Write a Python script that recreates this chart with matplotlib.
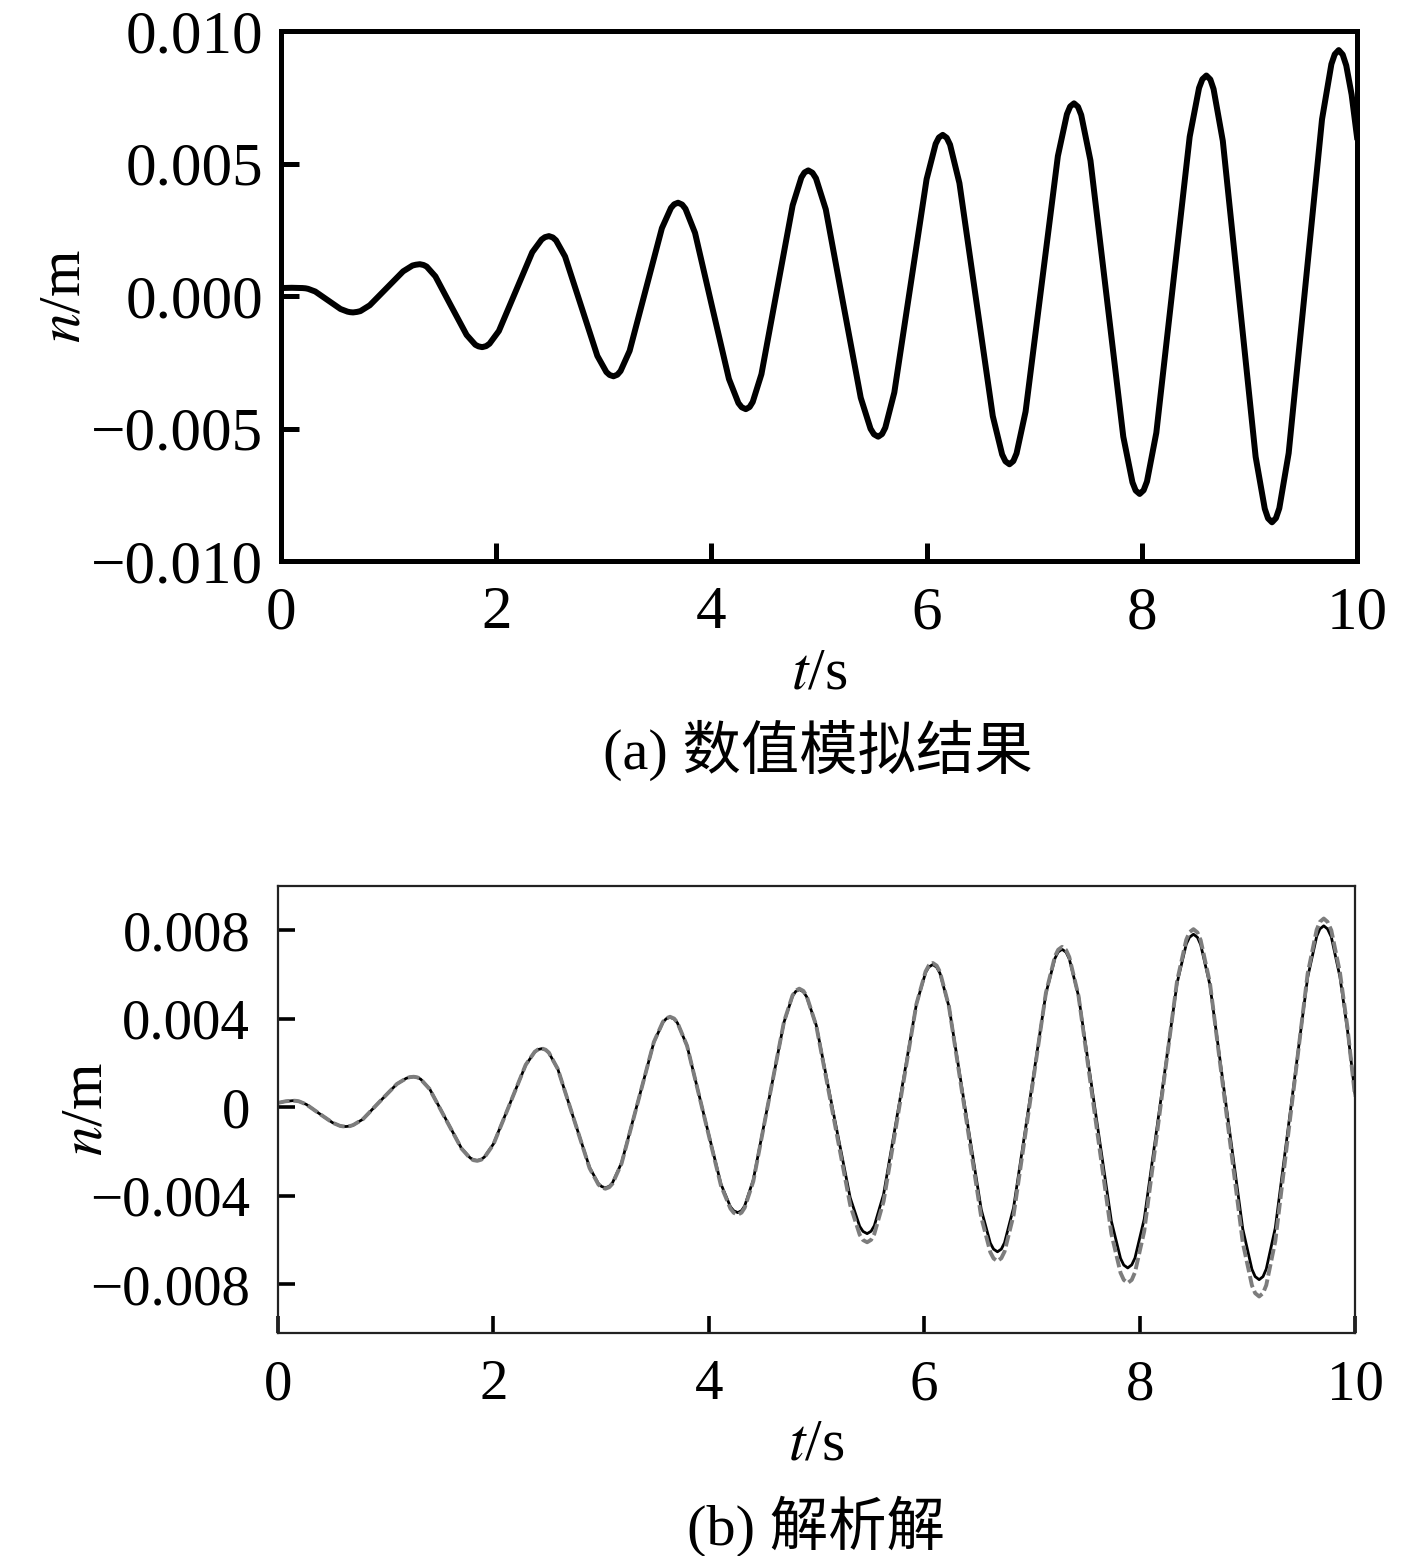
import numpy as np
import matplotlib
matplotlib.use("Agg")
import matplotlib.pyplot as plt

plt.rcParams['font.family'] = ['Liberation Serif', 'Noto Sans CJK SC']
plt.rcParams['mathtext.fontset'] = 'stix'
plt.rcParams['axes.unicode_minus'] = True

# (a) numerical result, n in mm
t_a = [0.00, 0.10, 0.20,
       0.228, 0.252, 0.318, 0.435, 0.553, 0.618, 0.642, 0.67,
       0.707, 0.738, 0.825, 0.980, 1.135, 1.222, 1.253, 1.29,
       1.325, 1.354, 1.435, 1.580, 1.725, 1.806, 1.835, 1.87,
       1.907, 1.938, 2.025, 2.180, 2.335, 2.422, 2.453, 2.49,
       2.526, 2.556, 2.640, 2.790, 2.940, 3.024, 3.054, 3.09,
       3.126, 3.156, 3.240, 3.390, 3.540, 3.624, 3.654, 3.69,
       3.728, 3.759, 3.848, 4.005, 4.163, 4.251, 4.282, 4.32,
       4.355, 4.384, 4.465, 4.610, 4.755, 4.836, 4.865, 4.90,
       4.939, 4.972, 5.063, 5.225, 5.388, 5.479, 5.511, 5.55,
       5.586, 5.616, 5.700, 5.850, 6.000, 6.084, 6.114, 6.15,
       6.187, 6.218, 6.305, 6.460, 6.615, 6.702, 6.733, 6.77,
       6.806, 6.836, 6.920, 7.070, 7.220, 7.304, 7.334, 7.37,
       7.407, 7.437, 7.523, 7.675, 7.828, 7.913, 7.943, 7.98,
       8.017, 8.048, 8.135, 8.290, 8.445, 8.532, 8.563, 8.60,
       8.637, 8.667, 8.753, 8.905, 9.058, 9.143, 9.173, 9.21,
       9.247, 9.278, 9.365, 9.520, 9.675, 9.762, 9.793, 9.83,
       9.867, 9.90, 9.95, 10.00]
n_a_mm = [0.30, 0.31, 0.30,
          0.29, 0.27, 0.17, -0.16, -0.49, -0.59, -0.61, -0.62,
          -0.60, -0.57, -0.35, 0.29, 0.93, 1.15, 1.18, 1.20,
          1.17, 1.11, 0.74, -0.37, -1.47, -1.84, -1.90, -1.93,
          -1.89, -1.80, -1.32, 0.17, 1.65, 2.13, 2.22, 2.26,
          2.21, 2.10, 1.49, -0.39, -2.26, -2.87, -2.98, -3.03,
          -2.97, -2.83, -2.07, 0.25, 2.56, 3.32, 3.46, 3.52,
          3.45, 3.29, 2.38, -0.38, -3.13, -4.04, -4.20, -4.27,
          -4.19, -4.00, -2.95, 0.24, 3.42, 4.47, 4.66, 4.74,
          4.65, 4.44, 3.27, -0.29, -3.84, -5.01, -5.22, -5.31,
          -5.21, -4.97, -3.64, 0.39, 4.41, 5.74, 5.98, 6.08,
          5.97, 5.71, 4.26, -0.14, -4.53, -5.98, -6.24, -6.35,
          -6.23, -5.94, -4.36, 0.46, 5.28, 6.86, 7.15, 7.27,
          7.14, 6.83, 5.11, -0.10, -5.31, -7.03, -7.34, -7.47,
          -7.33, -7.00, -5.16, 0.43, 6.01, 7.85, 8.18, 8.32,
          8.17, 7.81, 5.85, -0.11, -6.07, -8.03, -8.39, -8.54,
          -8.38, -8.01, -5.93, 0.37, 6.67, 8.75, 9.12, 9.28,
          9.11, 8.70, 7.60, 6.00]

# (b) analytical solution: solid and dashed curves, n in mm
t_b = [0.00, 0.07, 0.14,
       0.169, 0.194, 0.263, 0.385, 0.508, 0.576, 0.601, 0.63,
       0.668, 0.699, 0.788, 0.945, 1.103, 1.191, 1.222, 1.26,
       1.295, 1.325, 1.408, 1.555, 1.703, 1.785, 1.815, 1.85,
       1.886, 1.916, 2.000, 2.150, 2.300, 2.384, 2.414, 2.45,
       2.485, 2.515, 2.598, 2.745, 2.893, 2.975, 3.005, 3.04,
       3.076, 3.106, 3.190, 3.340, 3.490, 3.574, 3.604, 3.64,
       3.678, 3.709, 3.798, 3.955, 4.113, 4.201, 4.232, 4.27,
       4.304, 4.333, 4.413, 4.555, 4.698, 4.777, 4.806, 4.84,
       4.878, 4.909, 4.998, 5.155, 5.313, 5.401, 5.432, 5.47,
       5.507, 5.537, 5.623, 5.775, 5.928, 6.013, 6.043, 6.08,
       6.116, 6.146, 6.230, 6.380, 6.530, 6.614, 6.644, 6.68,
       6.716, 6.746, 6.830, 6.980, 7.130, 7.214, 7.244, 7.28,
       7.317, 7.347, 7.433, 7.585, 7.738, 7.823, 7.853, 7.89,
       7.927, 7.957, 8.043, 8.195, 8.348, 8.433, 8.463, 8.50,
       8.537, 8.567, 8.653, 8.805, 8.958, 9.043, 9.073, 9.11,
       9.146, 9.176, 9.260, 9.410, 9.560, 9.644, 9.674, 9.71,
       9.745, 9.78, 9.86, 9.93, 10.00]
n_b_solid_mm = [0.20, 0.27, 0.30,
                0.29, 0.27, 0.13, -0.29, -0.70, -0.84, -0.86, -0.87,
                -0.85, -0.80, -0.54, 0.26, 1.05, 1.31, 1.36, 1.38,
                1.35, 1.27, 0.83, -0.51, -1.85, -2.29, -2.37, -2.40,
                -2.36, -2.25, -1.66, 0.13, 1.91, 2.50, 2.61, 2.65,
                2.59, 2.46, 1.73, -0.50, -2.72, -3.45, -3.58, -3.64,
                -3.57, -3.41, -2.51, 0.22, 2.94, 3.84, 4.00, 4.07,
                3.99, 3.81, 2.78, -0.35, -3.47, -4.50, -4.68, -4.76,
                -4.67, -4.46, -3.28, 0.28, 3.84, 5.02, 5.23, 5.32,
                5.22, 4.99, 3.70, -0.20, -4.09, -5.38, -5.61, -5.71,
                -5.60, -5.35, -3.93, 0.37, 4.67, 6.09, 6.34, 6.45,
                6.33, 6.06, 4.55, -0.04, -4.63, -6.14, -6.41, -6.53,
                -6.41, -6.12, -4.53, 0.31, 5.14, 6.73, 7.02, 7.14,
                7.01, 6.71, 5.03, -0.06, -5.15, -6.83, -7.13, -7.26,
                -7.12, -6.81, -5.05, 0.28, 5.61, 7.37, 7.68, 7.82,
                7.68, 7.35, 5.53, 0.02, -5.50, -7.32, -7.65, -7.79,
                -7.65, -7.31, -5.45, 0.21, 5.86, 7.72, 8.06, 8.20,
                8.06, 7.70, 5.90, 3.50, 0.60]
n_b_dashed_mm = [0.20, 0.27, 0.30,
                 0.29, 0.27, 0.13, -0.29, -0.70, -0.84, -0.86, -0.87,
                 -0.85, -0.80, -0.54, 0.26, 1.05, 1.31, 1.36, 1.38,
                 1.35, 1.27, 0.82, -0.52, -1.86, -2.31, -2.39, -2.42,
                 -2.37, -2.27, -1.68, 0.12, 1.92, 2.51, 2.61, 2.66,
                 2.60, 2.47, 1.73, -0.51, -2.75, -3.49, -3.62, -3.68,
                 -3.61, -3.45, -2.54, 0.21, 2.95, 3.86, 4.02, 4.09,
                 4.01, 3.82, 2.78, -0.38, -3.54, -4.58, -4.77, -4.85,
                 -4.76, -4.54, -3.35, 0.26, 3.86, 5.05, 5.27, 5.36,
                 5.26, 5.02, 3.68, -0.37, -4.42, -5.76, -6.00, -6.10,
                 -5.99, -5.72, -4.25, 0.21, 4.67, 6.14, 6.41, 6.52,
                 6.40, 6.12, 4.55, -0.22, -4.98, -6.55, -6.83, -6.95,
                 -6.82, -6.52, -4.87, 0.15, 5.17, 6.82, 7.12, 7.25,
                 7.11, 6.79, 5.03, -0.35, -5.72, -7.48, -7.80, -7.94,
                 -7.80, -7.46, -5.60, 0.06, 5.71, 7.57, 7.91, 8.05,
                 7.90, 7.55, 5.62, -0.25, -6.12, -8.05, -8.40, -8.55,
                 -8.40, -8.04, -6.05, -0.01, 6.03, 8.02, 8.38, 8.53,
                 8.38, 8.00, 6.10, 3.60, 0.50]

x_ticks = [0, 2, 4, 6, 8, 10]
y_ticks_a = [-0.010, -0.005, 0.0, 0.005, 0.010]
y_labels_a = ['\u22120.010', '\u22120.005', '0.000', '0.005', '0.010']
y_ticks_b = [-0.008, -0.004, 0.0, 0.004, 0.008]
y_labels_b = ['\u22120.008', '\u22120.004', '0', '0.004', '0.008']

W, H = 1417, 1556
fig = plt.figure(figsize=(W / 100, H / 100), dpi=100)

# ---- (a) ----
ax1 = fig.add_axes([281 / W, 1 - 561 / H, 1076 / W, 530 / H])
ax1.plot(t_a, np.array(n_a_mm) * 1e-3, color='black', lw=4.3,
         solid_joinstyle='round')
ax1.set_xlim(0, 10)
ax1.set_ylim(-0.010, 0.010)
ax1.set_xticks(x_ticks)
ax1.set_xticklabels([str(v) for v in x_ticks])
ax1.set_yticks(y_ticks_a)
ax1.set_yticklabels(y_labels_a)
for s in ax1.spines.values():
    s.set_linewidth(3.6)
ax1.tick_params(direction='in', length=13, width=3.6, labelsize=44,
                top=False, right=False)
ax1.tick_params(axis='y', pad=13)
ax1.tick_params(axis='x', pad=18)
ax1.set_xlabel('$t$/s', fontsize=43)
ax1.xaxis.label.set_va('center')
ax1.xaxis.set_label_coords(0.5, -0.215)
ax1.set_ylabel('$n$/m', fontsize=43)
ax1.yaxis.label.set_va('center')
ax1.yaxis.set_label_coords((65 - 281) / 1076, 0.5)

fig.text(818 / W, 1 - 750 / H, '(a) 数值模拟结果', ha='center', va='center',
         fontsize=42)

# ---- (b) ----
ax2 = fig.add_axes([278 / W, 1 - 1333 / H, 1077 / W, 447 / H])
ax2.plot(t_b, np.array(n_b_solid_mm) * 1e-3, color='black', lw=2.0,
         solid_joinstyle='round')
ax2.plot(t_b, np.array(n_b_dashed_mm) * 1e-3, color='#7d7d7d', lw=2.8,
         dashes=(3, 1))
ax2.set_xlim(0, 10)
ax2.set_ylim(-0.0102, 0.0100)
ax2.set_xticks(x_ticks)
ax2.set_xticklabels([str(v) for v in x_ticks])
ax2.set_yticks(y_ticks_b)
ax2.set_yticklabels(y_labels_b)
for s in ax2.spines.values():
    s.set_linewidth(1.6)
    s.set_color('#222222')
ax2.tick_params(direction='in', length=12, width=2.6, labelsize=41,
                top=False, right=False)
ax2.tick_params(axis='y', pad=20)
ax2.tick_params(axis='x', pad=19)
ax2.set_xlabel('$t$/s', fontsize=43)
ax2.xaxis.label.set_va('center')
ax2.xaxis.set_label_coords(0.5, (1333 - 1446) / 447)
ax2.set_ylabel('$n$/m', fontsize=43)
ax2.yaxis.label.set_va('center')
ax2.yaxis.set_label_coords((88 - 278) / 1077, 0.5)

fig.text(816 / W, 1 - 1526 / H, '(b) 解析解', ha='center', va='center',
         fontsize=42)

fig.savefig('out.png', dpi=100)
